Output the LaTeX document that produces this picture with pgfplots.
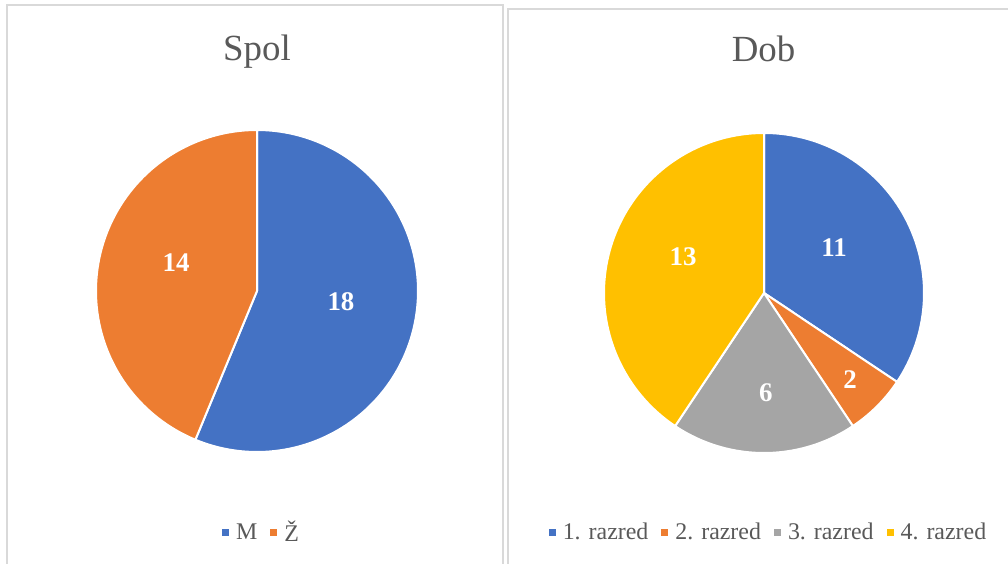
\documentclass[border=0pt]{standalone}
\usepackage{fontspec}
\setmainfont{Liberation Serif}
\usepackage{pgfplots}
\pgfplotsset{compat=1.18}
\definecolor{cblue}{HTML}{4472C4}
\definecolor{corange}{HTML}{ED7D31}
\definecolor{cgray}{HTML}{A5A5A5}
\definecolor{cgold}{HTML}{FFC000}
\definecolor{tgray}{HTML}{595959}
\definecolor{bgray}{HTML}{D9D9D9}
\newcommand{\labelfont}{\fontsize{27}{30}\selectfont\bfseries}
\newcommand{\titlefont}{\fontsize{37}{40}\selectfont}
\newcommand{\legfont}{\fontsize{24}{26}\selectfont}
% #1 cx, #2 cy, #3 r, #4 start angle, #5 value, #6 total, #7 colour,
% #8 label distance (fraction of r), #9 label angle
\newcommand{\pieslice}[9]{%
  \pgfmathsetmacro{\sA}{#4}%
  \pgfmathsetmacro{\sB}{#4-#5/#6*360}%
  \pgfmathsetmacro{\lx}{#1+#8*#3*cos(#9)}%
  \pgfmathsetmacro{\ly}{#2+#8*#3*sin(#9)}%
  \edef\doslice{%
    \noexpand\addplot[fill=#7, draw=white, line width=2bp, line join=round, domain=\sB:\sA, samples=120, forget plot]
      ({#1+#3*cos(x)},{#2+#3*sin(x)}) -- (axis cs:#1,#2) -- cycle;
    \noexpand\node[font=\noexpand\labelfont, text=white] at (axis cs:\lx,\ly) {#5};
  }%
  \doslice
  \global\let\nextstart\sB
}
\pgfplotsset{
  pieaxis/.style={at={(0,0)}, anchor=south west, scale only axis,
    width=1008bp, height=564bp, xmin=0, xmax=1008, ymin=0, ymax=564,
    axis lines=none,
    legend columns=-1,
    legend image code/.code={\fill[##1,draw=none] (0bp,-3.5bp) rectangle (7bp,3.5bp);},
    legend style={draw=none, fill=none, font=\legfont, text=tgray, anchor=center,
      /tikz/every odd column/.append style={column sep=5bp},
      /tikz/every even column/.append style={column sep=11bp}},
  }
}
\begin{document}
\begin{tikzpicture}
\useasboundingbox (0,0) rectangle (1008bp,564bp);
% Spol: M 18, Ž 14
\begin{axis}[pieaxis, legend style={at={(0.2594,0.0567)}}]
  \draw[bgray, line width=1.5bp] (axis cs:7,0) -- (axis cs:7,559) -- (axis cs:503,559) -- (axis cs:503,0);
  \node[anchor=base, font=\titlefont, text=tgray] at (axis cs:257,503) {Spol};
  \pieslice{257}{273}{161}{90}{18}{32}{cblue}{0.526}{-7.5}
  \pieslice{257}{273}{161}{\nextstart}{14}{32}{corange}{0.532}{160.9}
  \addlegendimage{fill=cblue}\addlegendentry{M}
  \addlegendimage{fill=corange}\addlegendentry{Ž}
\end{axis}
% Dob: 11, 2, 6, 13
\begin{axis}[pieaxis, legend style={at={(0.7624,0.0567)}}]
  \draw[bgray, line width=1.5bp] (axis cs:508,0) -- (axis cs:508,555) -- (axis cs:1008,555);
  \node[anchor=base, font=\titlefont, text=tgray] at (axis cs:763.5,502) {Dob};
  \pieslice{764}{271}{160}{90}{11}{32}{cblue}{0.52}{32.7}
  \pieslice{764}{271}{160}{\nextstart}{2}{32}{corange}{0.765}{-45.3}
  \pieslice{764}{271}{160}{\nextstart}{6}{32}{cgray}{0.625}{-88.9}
  \pieslice{764}{271}{160}{\nextstart}{13}{32}{cgold}{0.554}{156.0}
  \addlegendimage{fill=cblue}\addlegendentry{1. razred}
  \addlegendimage{fill=corange}\addlegendentry{2. razred}
  \addlegendimage{fill=cgray}\addlegendentry{3. razred}
  \addlegendimage{fill=cgold}\addlegendentry{4. razred}
\end{axis}
\end{tikzpicture}
\end{document}
